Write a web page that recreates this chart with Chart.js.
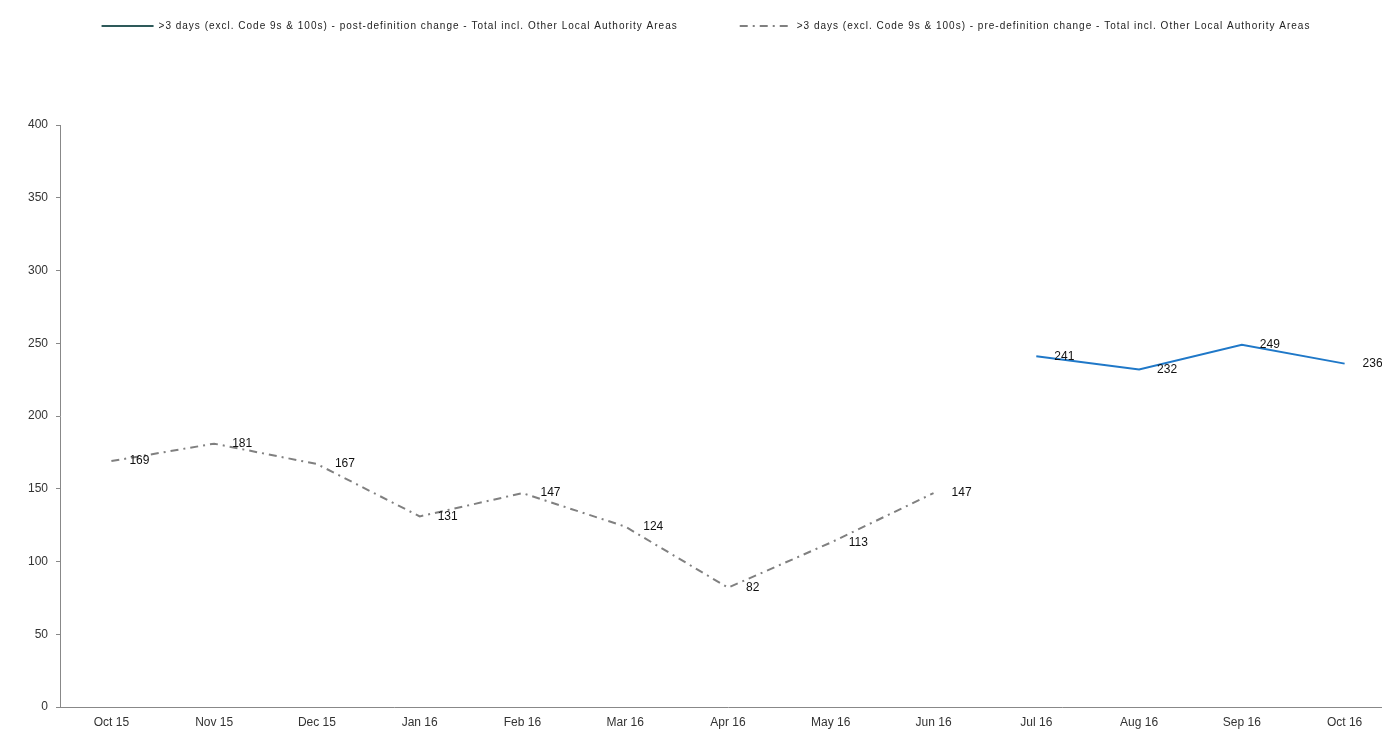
<!DOCTYPE html>
<html>
<head>
<meta charset="utf-8">
<script src="https://cdn.jsdelivr.net/npm/chart.js@4/dist/chart.umd.min.js"></script>
<style>
  html, body { margin: 0; padding: 0; overflow: hidden; background: #fff; }
  #c { display: block; }
</style>
</head>
<body>
<canvas id="c" width="1396" height="742"></canvas>
<script>
// Months on the category axis
const months = ['Oct 15', 'Nov 15', 'Dec 15', 'Jan 16', 'Feb 16', 'Mar 16', 'Apr 16',
                'May 16', 'Jun 16', 'Jul 16', 'Aug 16', 'Sep 16', 'Oct 16'];

// Monthly counts, >3 days (excl. Code 9s & 100s)
const postDefinition = [null, null, null, null, null, null, null, null, null, 241, 232, 249, 236];
const preDefinition  = [169, 181, 167, 131, 147, 124, 82, 113, 147, null, null, null, null];

// Value axis range
const yMin = 0;
const yMax = 400;
const yStep = 50;

const seriesNames = [
  '>3 days (excl. Code 9s & 100s) - post-definition change - Total incl. Other Local Authority Areas',
  '>3 days (excl. Code 9s & 100s) - pre-definition change - Total incl. Other Local Authority Areas'
];

const FONT = '"Liberation Sans", Arial, sans-serif';
const PRE_DASH = [8, 5, 2, 5];

// Writes each point's value just to the right of it
const valueLabels = {
  id: 'valueLabels',
  afterDatasetsDraw(chart) {
    const ctx = chart.ctx;
    ctx.save();
    ctx.font = '12px ' + FONT;
    ctx.fillStyle = '#111';
    ctx.textAlign = 'left';
    ctx.textBaseline = 'middle';
    chart.data.datasets.forEach((ds, i) => {
      const meta = chart.getDatasetMeta(i);
      meta.data.forEach((pt, j) => {
        const v = ds.data[j];
        if (v === null || v === undefined) return;
        ctx.fillText(String(v), pt.x + 18, pt.y);
      });
    });
    ctx.restore();
  }
};

// Legend text is tracked out a little; also reserve room under the legend
// and lift the legend row toward the top edge
const legendSpacing = {
  id: 'legendSpacing',
  beforeInit(chart) {
    const legend = chart.legend;
    const fit = legend.fit;
    legend.fit = function () {
      this.ctx.letterSpacing = '1px';
      fit.call(this);
      this.ctx.letterSpacing = '0px';
      this.height = 125;
    };
    const draw = legend.draw;
    legend.draw = function (...args) {
      this.ctx.letterSpacing = '1px';
      draw.apply(this, args);
      this.ctx.letterSpacing = '0px';
    };
  },
  afterLayout(chart) {
    const legend = chart.legend;
    legend.top -= 41;
    legend.bottom -= 41;
    legend.left += 8;
    legend.right += 8;
  }
};

new Chart(document.getElementById('c'), {
  type: 'line',
  data: {
    labels: months,
    datasets: [
      {
        label: seriesNames[0],
        data: postDefinition,
        borderColor: '#1f78c8',
        borderWidth: 2,
        pointRadius: 0,
        tension: 0,
        spanGaps: false
      },
      {
        label: seriesNames[1],
        data: preDefinition,
        borderColor: '#808080',
        borderWidth: 2,
        borderDash: PRE_DASH,
        pointRadius: 0,
        tension: 0,
        spanGaps: false
      }
    ]
  },
  options: {
    responsive: false,
    animation: false,
    devicePixelRatio: 1,
    layout: { padding: { top: 0, right: 0, bottom: 0, left: 0 } },
    plugins: {
      tooltip: { enabled: false },
      legend: {
        position: 'top',
        align: 'center',
        labels: {
          usePointStyle: true,
          pointStyle: 'line',
          pointStyleWidth: 52,
          padding: 62,
          color: '#222',
          font: { family: FONT, size: 10 },
          generateLabels(chart) {
            const items = Chart.defaults.plugins.legend.labels.generateLabels(chart);
            items.forEach((it, i) => {
              const ds = chart.data.datasets[i];
              it.pointStyle = 'line';
              it.lineWidth = ds.borderWidth;
              it.strokeStyle = ds.borderColor;
              it.lineDash = ds.borderDash || [];
            });
            if (items[0]) items[0].strokeStyle = '#2e5a5a';
            return items;
          }
        }
      }
    },
    scales: {
      x: {
        type: 'category',
        offset: true,
        grid: { display: true, drawOnChartArea: false, drawTicks: false },
        border: { display: true, color: '#888', width: 1 },
        ticks: {
          color: '#333',
          font: { family: FONT, size: 12 },
          padding: 8,
          maxRotation: 0,
          autoSkip: false
        },
        afterFit(s) { s.height = 35; }
      },
      y: {
        min: yMin,
        max: yMax,
        grid: { display: true, drawOnChartArea: false, drawTicks: true, tickLength: 4, color: '#888' },
        border: { display: true, color: '#888', width: 1 },
        ticks: {
          stepSize: yStep,
          color: '#333',
          font: { family: FONT, size: 12 },
          padding: 8
        },
        afterFit(s) { s.width = 60; }
      }
    }
  },
  plugins: [valueLabels, legendSpacing]
});
</script>
</body>
</html>
